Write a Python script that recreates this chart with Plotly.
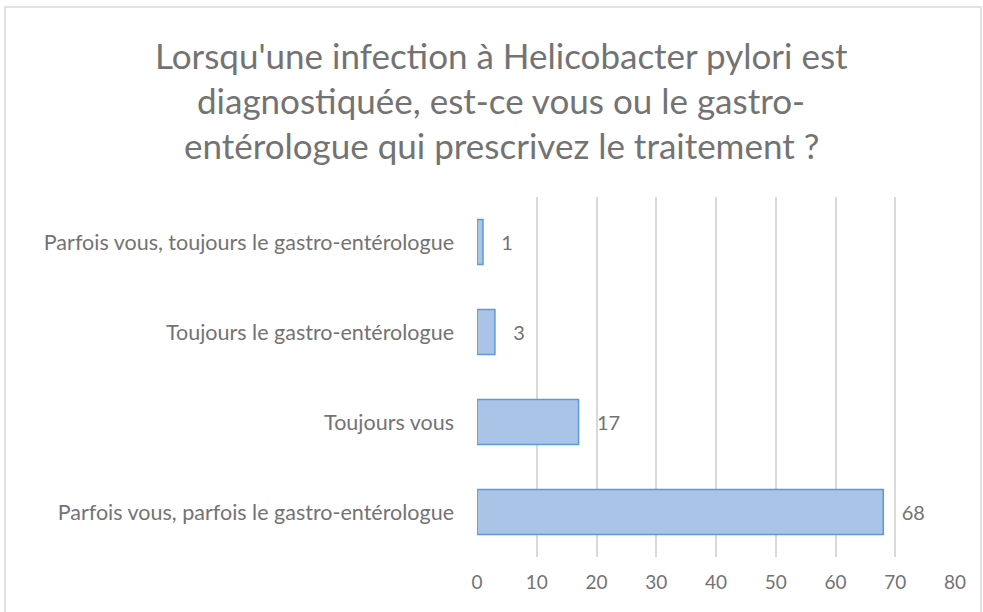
import plotly.graph_objects as go

# data (bottom to top)
categories = [
    "Parfois vous, parfois le gastro-entérologue",
    "Toujours vous",
    "Toujours le gastro-entérologue",
    "Parfois vous, toujours le gastro-entérologue",
]
values = [68, 17, 3, 1]
title_lines = [
    "Lorsqu'une infection à Helicobacter pylori est",
    "diagnostiquée, est-ce vous ou le gastro-",
    "entérologue qui prescrivez le traitement ?",
]

W, H = 983, 612
ML, MR, MT, MB = 477, 28, 197, 55
pw, ph = W - ML - MR, H - MT - MB
grey = "#737373"
font = "Lato"

fig = go.Figure(go.Bar(
    x=values, y=categories, orientation="h",
    marker=dict(color="#a9c4e7", line=dict(color="#5b9bd5", width=1.5)),
    texttemplate="   %{x}", textposition="outside", cliponaxis=False,
    textfont=dict(size=20, color=grey, family=font),
))

# chart title, one annotation per line (Excel spacing)
for i, line in enumerate(title_lines):
    fig.add_annotation(
        text=line, xref="paper", yref="paper",
        x=(501 - ML) / pw, y=(H - MB - (55 + 45 * i)) / ph,
        xanchor="center", yanchor="middle", showarrow=False,
        font=dict(size=35, color=grey, family=font),
    )

# outer chart border
fig.add_shape(type="rect", xref="paper", yref="paper",
              x0=(5 - ML) / pw, x1=(981 - ML) / pw,
              y0=-0.3, y1=(H - MB - 7) / ph,
              line=dict(color="#d9d9d9", width=1.5), layer="below")

fig.update_layout(
    width=W, height=H,
    margin=dict(l=ML, r=MR, t=MT, b=MB),
    paper_bgcolor="white", plot_bgcolor="white",
    bargap=0.5, showlegend=False,
    font=dict(family=font, color=grey, size=20),
)
fig.update_xaxes(range=[0, 80], dtick=10, showgrid=True, gridcolor="#d9d9d9",
                 gridwidth=1.5, zeroline=False, showline=False,
                 ticklabelstandoff=12,
                 tickfont=dict(size=19, color=grey), ticks="")
fig.update_yaxes(showgrid=False, showline=False, ticks="",
                 ticklabelstandoff=22, tickfont=dict(size=21.5, color=grey))

fig.write_html("out.html", config={"displayModeBar": False},
               post_script="document.body.style.margin='0';")
